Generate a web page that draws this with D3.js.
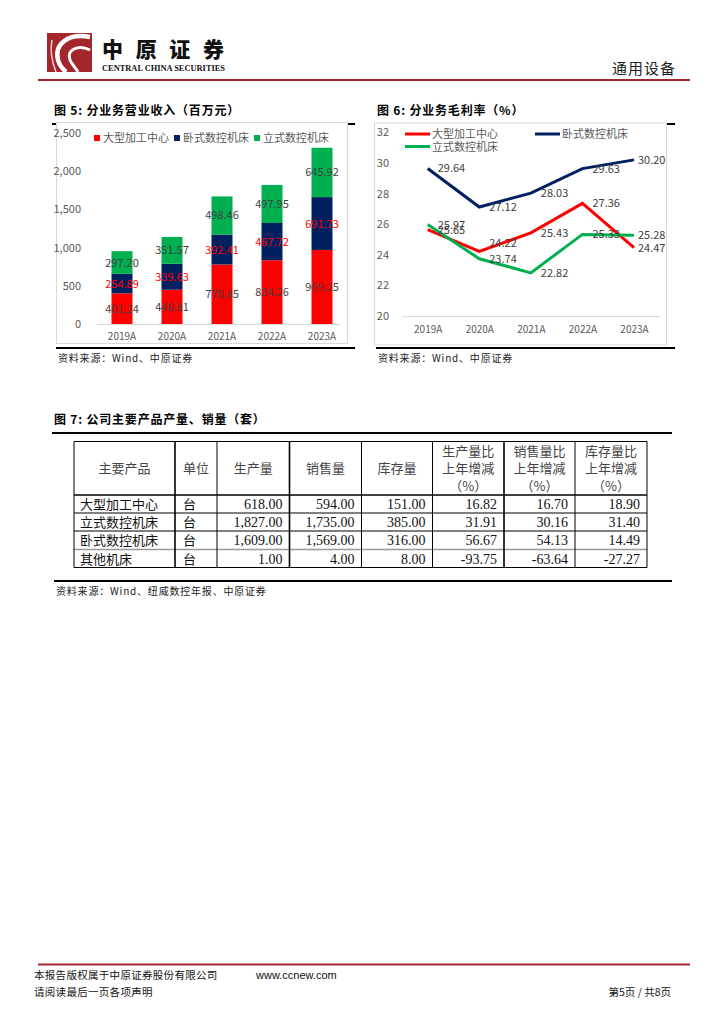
<!DOCTYPE html>
<html>
<head>
<meta charset="utf-8">
<script src="https://cdn.jsdelivr.net/npm/d3@7"></script>
<style>
  html, body { margin: 0; padding: 0; background: #fff; }
  svg { display: block; }
  text { font-family: 'Noto Sans CJK SC', 'Noto Sans', sans-serif; }
</style>
</head>
<body>
<svg id="page" width="724" height="1024"></svg>
<script>
// ---------- DATA ----------
const years = ["2019A", "2020A", "2021A", "2022A", "2023A"];
const seriesNames = ["大型加工中心", "卧式数控机床", "立式数控机床"];
const revLarge = [401.24, 448.81, 778.85, 834.26, 969.25];
const revHoriz = [254.89, 339.63, 392.41, 487.72, 691.73];
const revVert  = [297.20, 351.57, 498.46, 497.95, 645.92];
const revTicks = [0, 500, 1000, 1500, 2000, 2500];

const marginLarge = [25.65, 24.22, 25.43, 27.36, 24.47];
const marginHoriz = [29.64, 27.12, 28.03, 29.63, 30.20];
const marginVert  = [25.97, 23.74, 22.82, 25.33, 25.28];
const marginTicks = [20, 22, 24, 26, 28, 30, 32];

const tableHeaders = ["主要产品", "单位", "生产量", "销售量", "库存量",
  "生产量比|上年增减|（%）", "销售量比|上年增减|（%）", "库存量比|上年增减|（%）"];
const products   = ["大型加工中心", "立式数控机床", "卧式数控机床", "其他机床"];
const units      = ["台", "台", "台", "台"];
const production = [618.00, 1827.00, 1609.00, 1.00];
const sales      = [594.00, 1735.00, 1569.00, 4.00];
const inventory  = [151.00, 385.00, 316.00, 8.00];
const prodChg    = [16.82, 31.91, 56.67, -93.75];
const salesChg   = [16.70, 30.16, 54.13, -63.64];
const invChg     = [18.90, 31.40, 14.49, -27.27];

// ---------- STYLE ----------
const RED = "#ff0000", NAVY = "#002060", GREEN = "#00b050";
const BRAND = "#a3262c";
const GREY = "#595959";
const locale = d3.formatLocale({ decimal: ".", thousands: ",", grouping: [3], currency: ["", ""], minus: "-" });
const svg = d3.select("#page");
svg.append("rect").attr("width", 724).attr("height", 1024).attr("fill", "#fff");

// ---------- HEADER ----------
const hdr = svg.append("g");
hdr.append("rect").attr("x", 47).attr("y", 33).attr("width", 45).attr("height", 39).attr("fill", BRAND);
hdr.append("path").attr("d", "M90,37 C68,33 54,44 58,60 C60,67 64,70 66,72")
  .attr("fill", "none").attr("stroke", "#fff").attr("stroke-width", 4.5);
hdr.append("path").attr("d", "M90,50 C78,44 66,50 70,60 C72,65 76,68 78,72")
  .attr("fill", "none").attr("stroke", "#fff").attr("stroke-width", 3);
hdr.append("path").attr("d", "M52,40 C50,50 52,62 56,72")
  .attr("fill", "none").attr("stroke", "#fff").attr("stroke-width", 1.5).attr("opacity", 0.8);
hdr.append("text").attr("x", 102).attr("y", 57).attr("font-size", 21).attr("font-weight", 900)
  .attr("textLength", 122).attr("lengthAdjust", "spacing").attr("fill", "#111").text("中原证券");
hdr.append("text").attr("x", 102).attr("y", 70.5).attr("font-size", 8).attr("font-weight", 700)
  .attr("textLength", 123).attr("lengthAdjust", "spacingAndGlyphs")
  .style("font-family", "'Liberation Serif', serif").attr("fill", "#111").text("CENTRAL CHINA SECURITIES");
hdr.append("text").attr("x", 676).attr("y", 74).attr("font-size", 15).attr("text-anchor", "end")
  .attr("fill", "#222").attr("letter-spacing", 1).text("通用设备");
hdr.append("line").attr("x1", 38).attr("x2", 690).attr("y1", 80).attr("y2", 80)
  .attr("stroke", BRAND).attr("stroke-width", 2);

// ---------- helpers ----------
function title(x, y, txt, x2) {
  svg.append("text").attr("x", x).attr("y", y).attr("font-size", 12).attr("font-weight", 700)
    .attr("letter-spacing", 0.8).attr("fill", "#000").text(txt);
  svg.append("line").attr("x1", x - 2).attr("x2", x2).attr("y1", y + 9).attr("y2", y + 9)
    .attr("stroke", "#000").attr("stroke-width", 2);
}
function source(x, y, txt, x2) {
  svg.append("line").attr("x1", x - 2).attr("x2", x2).attr("y1", y - 10).attr("y2", y - 10)
    .attr("stroke", "#000").attr("stroke-width", 2);
  svg.append("text").attr("x", x).attr("y", y + 4).attr("font-size", 10)
    .attr("letter-spacing", 0.8).attr("fill", "#222").text(txt);
}

// ---------- CHART 5 ----------
title(54, 115, "图 5:  分业务营业收入（百万元）", 355);
svg.append("rect").attr("x", 56.5).attr("y", 122.5).attr("width", 291).attr("height", 221)
  .attr("fill", "#fff").attr("stroke", "#d9d9d9");
source(58, 358, "资料来源：Wind、中原证券", 355);

const c5 = svg.append("g");
const x5 = d3.scaleBand().domain(years).range([97, 347]).paddingInner(0.58).paddingOuter(0.29);
const y5 = d3.scaleLinear().domain([0, 2500]).range([324, 133]);
const rows5 = years.map((yr, i) => ({ year: yr, a: revLarge[i], b: revHoriz[i], c: revVert[i] }));
const stack5 = d3.stack().keys(["a", "b", "c"])(rows5);
const cols5 = [RED, NAVY, GREEN];
const labCols5 = ["#404040", RED, "#404040"];

c5.append("g").attr("transform", "translate(84,0)")
  .call(d3.axisLeft(y5).tickValues(revTicks).tickFormat(d3.format(",")).tickSize(0))
  .call(g => g.select(".domain").remove())
  .call(g => g.selectAll("text").attr("fill", GREY).attr("font-size", 11).attr("dx", 0)
     .style("font-family", "'Noto Sans CJK SC', 'Noto Sans', sans-serif"));

stack5.forEach((layer, k) => {
  c5.append("g").selectAll("rect").data(layer).join("rect")
    .attr("x", d => x5(d.data.year)).attr("width", x5.bandwidth())
    .attr("y", d => y5(d[1])).attr("height", d => y5(d[0]) - y5(d[1]))
    .attr("fill", cols5[k]);
});
stack5.forEach((layer, k) => {
  c5.append("g").selectAll("text").data(layer).join("text")
    .attr("x", d => x5(d.data.year) + x5.bandwidth() / 2)
    .attr("y", d => (y5(d[0]) + y5(d[1])) / 2 + 4)
    .attr("text-anchor", "middle").attr("font-size", 11).attr("fill", labCols5[k])
    .text(d => d3.format(".2f")(d[1] - d[0]));
});
c5.append("g").attr("transform", "translate(0,324)")
  .call(d3.axisBottom(x5).tickSize(0).tickPadding(9))
  .call(g => g.select(".domain").attr("stroke", "#d9d9d9").attr("d", "M97,0.5H340"))
  .call(g => g.selectAll("text").attr("fill", GREY).attr("font-size", 10)
     .style("font-family", "'Noto Sans CJK SC', 'Noto Sans', sans-serif"));

// legend 5
const leg5x = [94, 174, 254];
seriesNames.forEach((n, i) => {
  c5.append("rect").attr("x", leg5x[i]).attr("y", 135).attr("width", 6).attr("height", 6).attr("fill", cols5[i]);
  c5.append("text").attr("x", leg5x[i] + 9).attr("y", 142).attr("font-size", 11).attr("fill", GREY).text(n);
});

// ---------- CHART 6 ----------
title(377, 115, "图 6:  分业务毛利率（%）", 675);
svg.append("rect").attr("x", 374.5).attr("y", 123).attr("width", 292).attr("height", 222)
  .attr("fill", "#fff").attr("stroke", "#d9d9d9");
source(378, 358, "资料来源：Wind、中原证券", 675);

const c6 = svg.append("g");
const x6 = d3.scalePoint().domain(years).range([427.7, 634]);
const y6 = d3.scaleLinear().domain([20, 32]).range([316, 132.3]);
c6.append("g").attr("transform", "translate(389,0)")
  .call(d3.axisLeft(y6).tickValues(marginTicks).tickSize(0).tickPadding(0))
  .call(g => g.select(".domain").remove())
  .call(g => g.selectAll("text").attr("fill", GREY).attr("font-size", 11)
     .style("font-family", "'Noto Sans CJK SC', 'Noto Sans', sans-serif"));
c6.append("line").attr("x1", 402).attr("x2", 660).attr("y1", 316.5).attr("y2", 316.5).attr("stroke", "#d9d9d9");
c6.append("g").attr("transform", "translate(0,316)")
  .call(d3.axisBottom(x6).tickSize(0).tickPadding(10))
  .call(g => g.select(".domain").remove())
  .call(g => g.selectAll("text").attr("fill", GREY).attr("font-size", 10)
     .style("font-family", "'Noto Sans CJK SC', 'Noto Sans', sans-serif"));

const series6 = [
  { name: seriesNames[0], vals: marginLarge, col: RED },
  { name: seriesNames[1], vals: marginHoriz, col: NAVY },
  { name: seriesNames[2], vals: marginVert, col: GREEN }
];
const line6 = d3.line().x((d, i) => x6(years[i])).y(d => y6(d));
series6.forEach(s => {
  c6.append("path").datum(s.vals).attr("d", line6).attr("fill", "none")
    .attr("stroke", s.col).attr("stroke-width", 3).attr("stroke-linejoin", "miter");
});
// labels: partially separated where two labels nearly collide (as in the reference)
series6.forEach((s, si) => {
  c6.append("g").selectAll("text").data(s.vals).join("text")
    .attr("x", (d, i) => x6(years[i]) + (i === years.length - 1 ? 4 : 10))
    .attr("y", (d, i) => {
      let y = y6(d);
      series6.forEach((o, oi) => {
        if (oi === si) return;
        const gap = y6(o.vals[i]) - y;
        if (gap > 6 && gap < 12 && i > 0 && i < years.length - 1) y -= 8;
      });
      return y + 4;
    })
    .attr("font-size", 11).attr("fill", "#404040")
    .text(d => d3.format(".2f")(d));
});
// legend 6
const leg6 = [{ x: 405, y: 134, s: 0 }, { x: 535, y: 134, s: 1 }, { x: 405, y: 146.5, s: 2 }];
leg6.forEach(l => {
  c6.append("line").attr("x1", l.x).attr("x2", l.x + 25).attr("y1", l.y).attr("y2", l.y)
    .attr("stroke", series6[l.s].col).attr("stroke-width", 3);
  c6.append("text").attr("x", l.x + 27).attr("y", l.y + 4).attr("font-size", 11).attr("fill", GREY)
    .text(series6[l.s].name);
});

// ---------- TABLE (图 7) ----------
title(54, 424, "图 7:  公司主要产品产量、销量（套）", 672);
const colEdges = [74, 175, 217, 289.5, 361.5, 432.5, 504, 575, 647];
const rowEdges = [441.5, 495, 513, 531, 549.5, 567.5];
const tb = svg.append("g");
const numFmt = locale.format(",.2f");
const body = products.map((p, i) => [p, units[i], numFmt(production[i]), numFmt(sales[i]),
  numFmt(inventory[i]), numFmt(prodChg[i]), numFmt(salesChg[i]), numFmt(invChg[i])]);

// header
tableHeaders.forEach((h, j) => {
  const cx = (colEdges[j] + colEdges[j + 1]) / 2;
  const lines = h.split("|");
  if (lines.length === 1) {
    tb.append("text").attr("x", cx).attr("y", 473).attr("text-anchor", "middle")
      .attr("font-size", 13).attr("fill", "#444").text(h);
  } else {
    lines.forEach((ln, k) => {
      tb.append("text").attr("x", cx).attr("y", 455.5 + k * 17.5).attr("text-anchor", "middle")
        .attr("font-size", 13).attr("fill", "#444").text(ln);
    });
  }
});
body.forEach((r, i) => {
  const yMid = (rowEdges[i + 1] + rowEdges[i + 2]) / 2;
  r.forEach((v, j) => {
    const t = tb.append("text").attr("y", yMid + 5).attr("font-size", 13).attr("fill", "#111").text(v);
    if (j < 2) {
      t.attr("x", colEdges[j] + (j === 0 ? 6 : 8));
    } else {
      t.attr("x", colEdges[j + 1] - 7).attr("text-anchor", "end")
        .style("font-family", "'Liberation Serif', 'Times New Roman', serif").attr("font-size", 14);
    }
  });
});
// grid lines
rowEdges.forEach((y, i) => {
  tb.append("line").attr("x1", colEdges[0]).attr("x2", colEdges[colEdges.length - 1])
    .attr("y1", y).attr("y2", y)
    .attr("stroke", i === 4 ? "#999" : "#000").attr("stroke-width", (i === 1 || i === 4) ? 1.6 : 1);
});
colEdges.forEach((x, j) => {
  tb.append("line").attr("x1", x).attr("x2", x).attr("y1", rowEdges[0]).attr("y2", rowEdges[rowEdges.length - 1])
    .attr("stroke", "#000").attr("stroke-width", (j === 1 || j === 3 || j === 6) ? 1.6 : 1);
});
source(56, 591, "资料来源：Wind、纽威数控年报、中原证券", 672);

// ---------- FOOTER ----------
const ft = svg.append("g");
ft.append("line").attr("x1", 38).attr("x2", 690).attr("y1", 964.5).attr("y2", 964.5)
  .attr("stroke", BRAND).attr("stroke-width", 2);
ft.append("text").attr("x", 34).attr("y", 979).attr("font-size", 10.5).attr("fill", "#111")
  .attr("letter-spacing", 0.3).text("本报告版权属于中原证券股份有限公司");
ft.append("text").attr("x", 256).attr("y", 979).attr("font-size", 11).attr("fill", "#111")
  .style("font-family", "'Liberation Sans', Arial, sans-serif").text("www.ccnew.com");
ft.append("text").attr("x", 34).attr("y", 996).attr("font-size", 10.5).attr("fill", "#111")
  .attr("letter-spacing", 0.3).text("请阅读最后一页各项声明");
ft.append("text").attr("x", 671).attr("y", 996).attr("font-size", 10.5).attr("fill", "#111")
  .attr("text-anchor", "end").text("第5页  /  共8页");
</script>
</body>
</html>
